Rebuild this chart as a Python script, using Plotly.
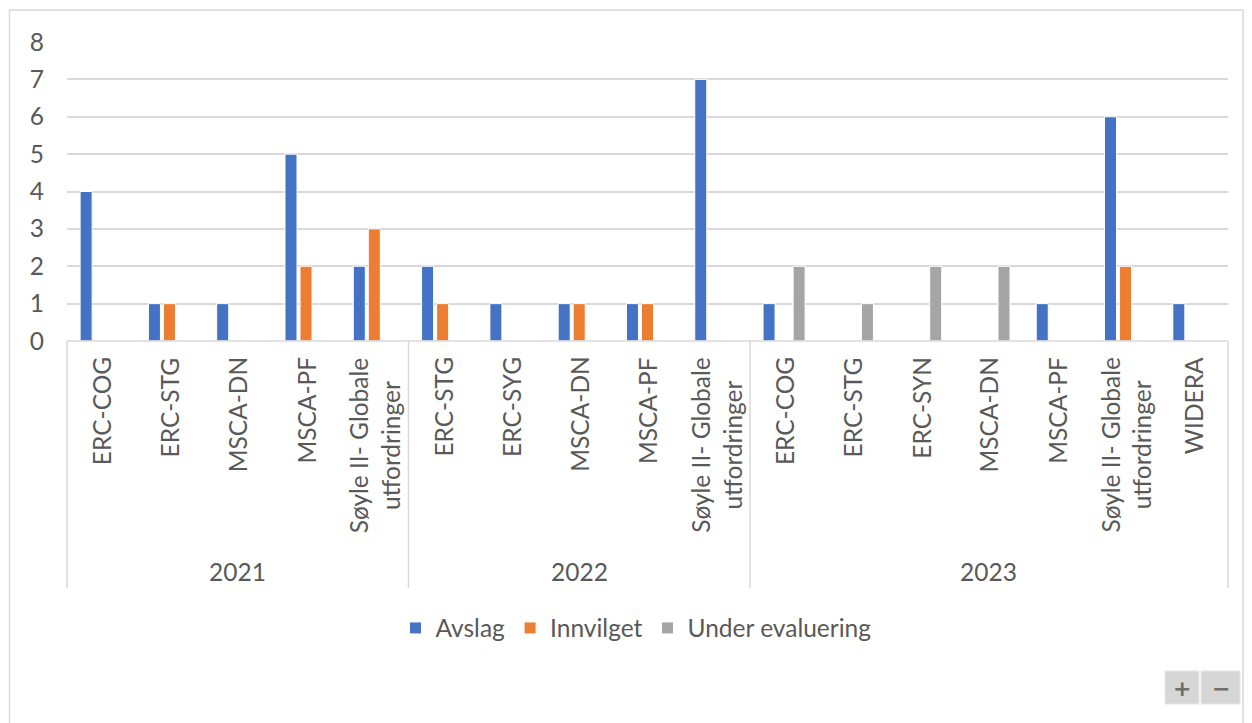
import plotly.graph_objects as go

# ---- data ----
years = ["2021", "2022", "2023"]
programmes_2021 = ["ERC-COG", "ERC-STG", "MSCA-DN", "MSCA-PF", "Søyle II- Globale utfordringer"]
programmes_2022 = ["ERC-STG", "ERC-SYG", "MSCA-DN", "MSCA-PF", "Søyle II- Globale utfordringer"]
programmes_2023 = ["ERC-COG", "ERC-STG", "ERC-SYN", "MSCA-DN", "MSCA-PF",
                   "Søyle II- Globale utfordringer", "WIDERA"]

avslag = [4, 1, 1, 5, 2,   2, 1, 1, 1, 7,   1, 0, 0, 0, 1, 6, 1]
innvilget = [0, 1, 0, 2, 3,   1, 0, 1, 1, 0,   0, 0, 0, 0, 0, 2, 0]
under_evaluering = [0, 0, 0, 0, 0,   0, 0, 0, 0, 0,   2, 1, 2, 2, 0, 0, 0]

series_names = ["Avslag", "Innvilget", "Under evaluering"]
y_ticks = [0, 1, 2, 3, 4, 5, 6, 7, 8]

# ---- styling ----
colors = ["#4472C4", "#ED7D31", "#A5A5A5"]
TXT = "#595959"
GRID = "#D9D9D9"
FONT = "Lato"
FS = 24.5

groups = [programmes_2021, programmes_2022, programmes_2023]
labels = [p for g in groups for p in g]
n = len(labels)
xs = list(range(n))

W, H = 1252, 723
ML, MR, MT, MB = 67, 24, 42, 382
PW = W - ML - MR
PH = H - MT - MB


def px2x(px):
    return (px - ML) / PW


def py2y(py):
    return (H - MB - py) / PH


def wrap(s):
    if len(s) > 15:
        i = s.rfind(" ")
        return s[:i] + "<br>" + s[i + 1:]
    return s


fig = go.Figure()
for name, vals, col in zip(series_names, [avslag, innvilget, under_evaluering], colors):
    fig.add_trace(go.Bar(
        x=xs, y=[v if v else None for v in vals], name=name,
        marker=dict(color=col, line=dict(color="white", width=1)),
        hoverinfo="x+y+name",
    ))

shapes = []
annotations = []

# outer chart frame
shapes.append(dict(type="rect", xref="paper", yref="paper",
                   x0=px2x(9.5), x1=px2x(1243), y0=py2y(10), y1=py2y(740),
                   line=dict(color=GRID, width=1.5), fillcolor="rgba(0,0,0,0)", layer="below"))

# category axis line
shapes.append(dict(type="line", xref="paper", yref="paper", x0=0, x1=1, y0=0, y1=0,
                   line=dict(color=GRID, width=1.5)))

# group dividers
bounds = [0]
for g in groups:
    bounds.append(bounds[-1] + len(g))
for b in bounds:
    shapes.append(dict(type="line", xref="paper", yref="paper",
                       x0=b / n, x1=b / n, y0=0, y1=py2y(588),
                       line=dict(color=GRID, width=1.5)))

# category labels
for i, lab in enumerate(labels):
    annotations.append(dict(x=i, y=py2y(355), xref="x", yref="paper",
                            text=wrap(lab), textangle=-90, showarrow=False,
                            xanchor="center", yanchor="top", align="center",
                            font=dict(family=FONT, size=FS, color=TXT)))

# year labels
for k, yr in enumerate(years):
    c = (bounds[k] + bounds[k + 1] - 1) / 2
    annotations.append(dict(x=c, y=py2y(571), xref="x", yref="paper", text=yr,
                            showarrow=False, xanchor="center", yanchor="middle",
                            font=dict(family=FONT, size=FS, color=TXT)))

# +/- buttons (viewer controls in picture)
for (x0, x1, sym) in [(1165, 1199, "+"), (1201, 1240, "−")]:
    shapes.append(dict(type="rect", xref="paper", yref="paper",
                       x0=px2x(x0), x1=px2x(x1), y0=py2y(671), y1=py2y(704),
                       line=dict(color="#E6E6E6", width=1), fillcolor="#D6D6D6"))
    annotations.append(dict(x=px2x((x0 + x1) / 2), y=py2y(688), xref="paper", yref="paper",
                            text="<b>" + sym + "</b>", showarrow=False,
                            xanchor="center", yanchor="middle",
                            font=dict(family="DejaVu Sans", size=22, color="#6E6E6E")))

fig.update_layout(
    width=W, height=H,
    margin=dict(l=ML, r=MR, t=MT, b=MB, pad=0),
    paper_bgcolor="white", plot_bgcolor="white",
    barmode="group", bargap=0.34, bargroupgap=0.2,
    font=dict(family=FONT, size=FS, color=TXT),
    showlegend=True,
    legend=dict(orientation="h", x=px2x(636), xanchor="center", y=py2y(628), yanchor="middle",
                font=dict(family=FONT, size=FS, color=TXT), itemwidth=30,
                bgcolor="rgba(0,0,0,0)"),
    xaxis=dict(range=[-0.5, n - 0.5], showticklabels=False, showgrid=False,
               zeroline=False, showline=False, ticks="", fixedrange=True),
    yaxis=dict(range=[0, 8], tickvals=y_ticks, showgrid=True, gridcolor=GRID, gridwidth=1.5,
               zeroline=False, showline=False, ticks="", ticklabelstandoff=22,
               tickfont=dict(family=FONT, size=FS, color=TXT), fixedrange=True),
    shapes=shapes, annotations=annotations,
)

fig.write_html("out.html", config={"displayModeBar": False})
